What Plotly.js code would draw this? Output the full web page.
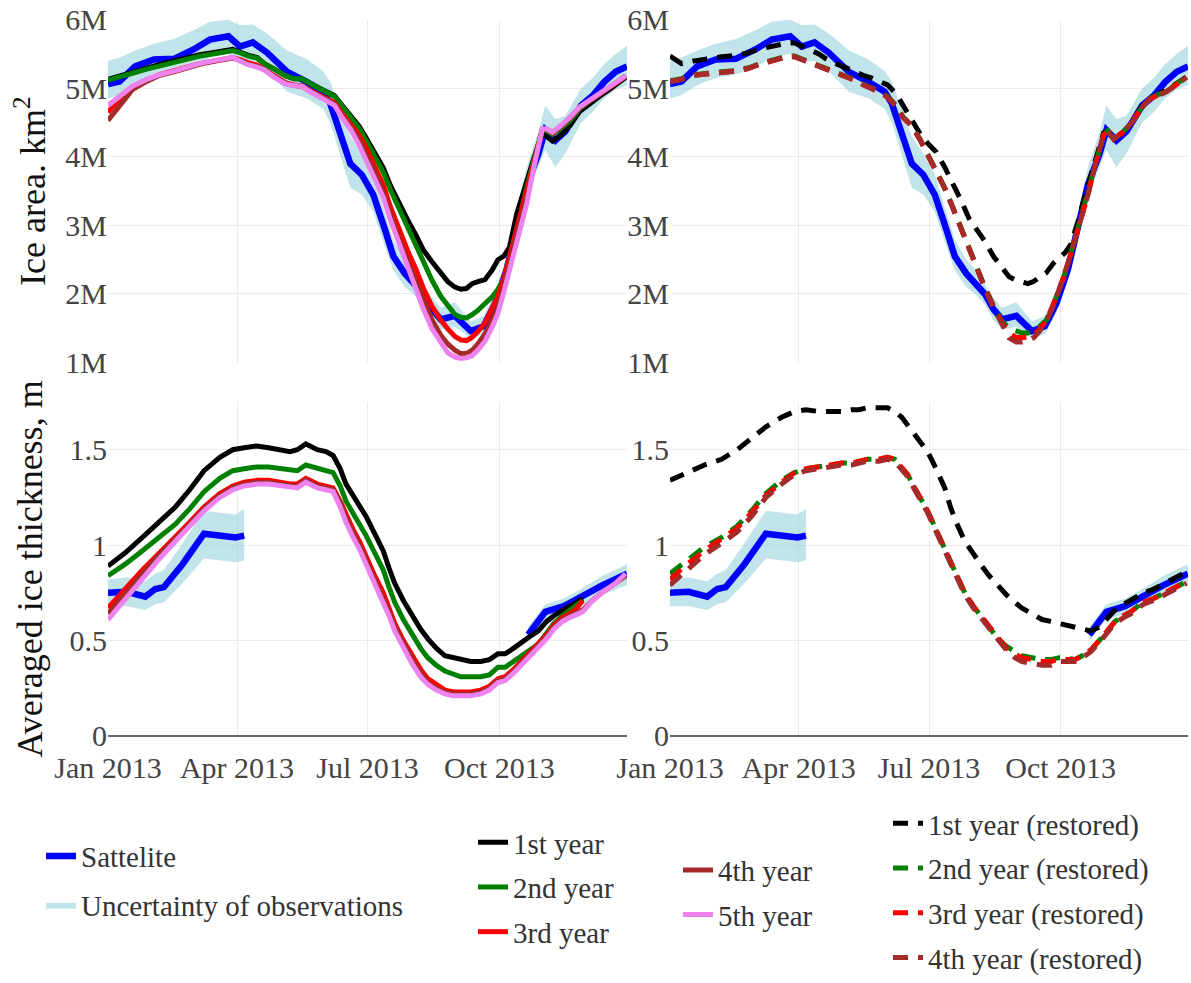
<!DOCTYPE html>
<html><head><meta charset="utf-8">
<script src="https://cdn.plot.ly/plotly-3.0.1.min.js"></script>
<style>html,body{margin:0;padding:0;background:#fff}#chart{width:1191px;height:983px}</style>
</head><body><div id="chart"></div>
<script>
// ---------- Ice area (millions of km^2) ----------
const areaDates = ['2013-01-01','2013-01-09','2013-01-18','2013-01-28','2013-02-06','2013-02-16','2013-02-25','2013-03-06','2013-03-15','2013-03-24',
 '2013-03-29','2013-04-03','2013-04-09','2013-04-15','2013-04-20','2013-04-27','2013-05-05','2013-05-11','2013-05-16','2013-05-22',
 '2013-05-27','2013-06-02','2013-06-08','2013-06-13','2013-06-19','2013-06-25','2013-06-30','2013-07-06','2013-07-12','2013-07-17',
 '2013-07-23','2013-07-29','2013-08-04','2013-08-09','2013-08-15','2013-08-21','2013-08-26','2013-08-31','2013-09-04','2013-09-08',
 '2013-09-12','2013-09-16','2013-09-21','2013-09-26','2013-09-30','2013-10-04','2013-10-08','2013-10-13','2013-10-20','2013-10-25',
 '2013-10-31','2013-11-03','2013-11-07','2013-11-13','2013-11-19','2013-11-26','2013-12-02','2013-12-07','2013-12-13','2013-12-18',
 '2013-12-23','2013-12-28'];
const area1 = [5.13,5.18,5.24,5.30,5.35,5.40,5.45,5.49,5.52,5.56, 5.57,5.53,5.48,5.45,5.36,5.28,5.18,5.14,5.14,5.07,
 5.02,4.96,4.89,4.76,4.60,4.45,4.28,4.07,3.84,3.58, 3.31,3.08,2.85,2.64,2.47,2.30,2.18,2.10,2.07,2.08,
 2.15,2.18,2.21,2.35,2.50,2.55,2.68,3.16,3.65,3.98, 4.35,4.30,4.23,4.32,4.45,4.66,4.76,4.85,4.93,5.00, 5.08,5.16];
const area2 = [5.12,5.16,5.22,5.28,5.33,5.38,5.43,5.47,5.50,5.54, 5.55,5.52,5.47,5.44,5.36,5.28,5.18,5.14,5.14,5.07,
 5.02,4.95,4.88,4.75,4.58,4.42,4.24,4.02,3.78,3.52, 3.24,2.98,2.72,2.46,2.20,1.97,1.82,1.70,1.66,1.65,
 1.70,1.76,1.86,1.96,2.07,2.22,2.45,2.93,3.55,3.95, 4.40,4.38,4.33,4.42,4.52,4.70,4.80,4.88,4.96,5.03, 5.10,5.18];
const area3 = [4.65,4.85,5.00,5.12,5.20,5.25,5.31,5.36,5.40,5.44, 5.45,5.42,5.37,5.34,5.28,5.18,5.08,5.05,5.04,4.97,
 4.92,4.86,4.79,4.64,4.48,4.32,4.13,3.88,3.59,3.27, 2.93,2.63,2.35,2.08,1.82,1.62,1.49,1.38,1.33,1.32,
 1.37,1.45,1.58,1.78,1.97,2.22,2.54,2.95,3.45,3.90, 4.40,4.40,4.35,4.45,4.56,4.72,4.80,4.88,4.96,5.03, 5.10,5.18];
const area4 = [4.53,4.75,4.98,5.10,5.19,5.24,5.30,5.35,5.39,5.43, 5.44,5.41,5.35,5.32,5.27,5.17,5.07,5.04,5.03,4.96,
 4.90,4.84,4.77,4.60,4.44,4.25,4.05,3.78,3.48,3.15, 2.80,2.48,2.18,1.90,1.62,1.40,1.27,1.18,1.13,1.13,
 1.18,1.27,1.42,1.62,1.82,2.10,2.45,2.88,3.40,3.88, 4.40,4.40,4.35,4.45,4.56,4.72,4.80,4.88,4.96,5.03, 5.10,5.18];
const area5 = [4.75,4.88,5.03,5.13,5.20,5.25,5.31,5.36,5.40,5.44, 5.45,5.40,5.34,5.31,5.27,5.16,5.06,5.04,5.03,4.95,
 4.89,4.82,4.75,4.58,4.41,4.18,3.95,3.68,3.41,3.08, 2.73,2.40,2.07,1.78,1.49,1.28,1.14,1.08,1.06,1.07,
 1.10,1.18,1.31,1.52,1.72,2.02,2.35,2.80,3.31,3.85, 4.41,4.41,4.36,4.46,4.57,4.73,4.81,4.89,4.97,5.04, 5.11,5.18];
const restArea1 = [5.47,5.36,5.40,5.44,5.46,5.48,5.52,5.58,5.62,5.66, 5.66,5.62,5.56,5.50,5.43,5.36,5.28,5.23,5.19,5.15,
 5.11,5.05,4.92,4.75,4.55,4.33,4.20,4.07,3.85,3.65, 3.38,3.10,2.92,2.77,2.55,2.38,2.25,2.20,2.17,2.15,
 2.18,2.24,2.31,2.45,2.52,2.60,2.72,3.05,3.58,3.92, 4.35,4.38,4.28,4.35,4.48,4.72,4.84,4.90,4.96,5.03, 5.10,5.17];
const restArea2 = [5.11,5.14,5.20,5.23,5.24,5.26,5.30,5.37,5.42,5.47, 5.47,5.43,5.38,5.33,5.28,5.24,5.17,5.12,5.06,5.01,
 4.96,4.88,4.75,4.58,4.46,4.25,4.05,3.80,3.55,3.30, 2.98,2.68,2.38,2.10,1.83,1.60,1.50,1.45,1.43,1.43,
 1.46,1.52,1.62,1.85,2.07,2.30,2.58,2.95,3.45,3.88, 4.32,4.38,4.26,4.35,4.48,4.70,4.85,4.90,4.95,5.02, 5.10,5.17];
const restArea3 = [5.10,5.13,5.19,5.22,5.23,5.25,5.29,5.36,5.41,5.46, 5.46,5.42,5.37,5.32,5.27,5.23,5.16,5.11,5.05,5.00,
 4.95,4.87,4.74,4.57,4.45,4.24,4.04,3.79,3.54,3.29, 2.97,2.67,2.37,2.09,1.82,1.58,1.42,1.37,1.36,1.37,
 1.40,1.48,1.61,1.84,2.06,2.29,2.57,2.94,3.44,3.87, 4.32,4.38,4.26,4.35,4.48,4.70,4.84,4.89,4.94,5.01, 5.09,5.16];
const restArea4 = [5.10,5.13,5.19,5.22,5.23,5.25,5.29,5.36,5.41,5.46, 5.46,5.42,5.37,5.32,5.27,5.23,5.16,5.11,5.05,5.00,
 4.95,4.87,4.74,4.57,4.45,4.24,4.04,3.79,3.54,3.29, 2.97,2.67,2.37,2.09,1.80,1.55,1.36,1.30,1.30,1.32,
 1.36,1.45,1.60,1.83,2.06,2.29,2.57,2.94,3.44,3.87, 4.32,4.38,4.26,4.35,4.48,4.70,4.84,4.89,4.94,5.01, 5.09,5.16];

const satAreaDates = ['2013-01-01','2013-01-09','2013-01-20','2013-02-02','2013-02-16','2013-03-02','2013-03-13','2013-03-26','2013-04-03','2013-04-12',
 '2013-04-22','2013-05-06','2013-05-20','2013-05-31','2013-06-05','2013-06-13','2013-06-19','2013-06-27','2013-07-05','2013-07-13',
 '2013-07-19','2013-07-27','2013-08-03','2013-08-09','2013-08-15','2013-08-21','2013-08-31','2013-09-11','2013-09-20','2013-09-28',
 '2013-10-06','2013-10-14','2013-10-20','2013-10-28','2013-11-02','2013-11-09','2013-11-16','2013-11-27','2013-12-05','2013-12-13',
 '2013-12-21','2013-12-29'];
const satArea = [5.06,5.10,5.32,5.42,5.43,5.57,5.71,5.76,5.61,5.67, 5.52,5.24,5.09,4.95,4.78,4.30,3.90,3.74,3.45,2.95,
 2.55,2.30,2.15,2.00,1.78,1.63,1.68,1.46,1.53,1.86, 2.35,3.02,3.59,4.03,4.39,4.24,4.37,4.75,4.89,5.09, 5.24,5.32];
const satAreaLo = [4.85,4.90,5.05,5.15,5.20,5.30,5.45,5.50,5.38,5.40, 5.25,4.95,4.85,4.70,4.50,3.95,3.55,3.45,3.20,2.70,
 2.35,2.10,1.98,1.85,1.62,1.48,1.52,1.35,1.42,1.72, 2.20,2.85,3.40,3.85,4.10,3.85,4.05,4.50,4.65,4.85, 4.98,5.05];
const satAreaHi = [5.40,5.45,5.55,5.65,5.72,5.85,5.97,6.00,5.92,5.93, 5.80,5.55,5.42,5.25,5.10,4.65,4.30,4.05,3.75,3.20,
 2.80,2.50,2.35,2.15,1.95,1.80,1.88,1.60,1.68,2.02, 2.55,3.25,3.85,4.35,4.75,4.55,4.60,5.00,5.15,5.35, 5.50,5.62];

// ---------- Averaged ice thickness (m) ----------
const thickDates = ['2013-01-01','2013-01-13','2013-01-25','2013-02-06','2013-02-17','2013-02-27','2013-03-09','2013-03-20','2013-03-29','2013-04-06',
 '2013-04-15','2013-04-23','2013-05-01','2013-05-08','2013-05-13','2013-05-19','2013-05-27','2013-06-02','2013-06-07','2013-06-12',
 '2013-06-16','2013-06-21','2013-06-26','2013-06-30','2013-07-06','2013-07-12','2013-07-16','2013-07-20','2013-07-26','2013-08-01',
 '2013-08-07','2013-08-12','2013-08-18','2013-08-24','2013-08-30','2013-09-04','2013-09-11','2013-09-18','2013-09-24','2013-09-30',
 '2013-10-05','2013-10-11','2013-10-16','2013-10-22','2013-10-28','2013-11-03','2013-11-08','2013-11-14','2013-11-19','2013-11-24',
 '2013-11-28','2013-12-05','2013-12-13','2013-12-21','2013-12-28'];
const thick1 = [0.89,0.96,1.04,1.12,1.20,1.29,1.39,1.46,1.50,1.51, 1.52,1.51,1.50,1.49,1.50,1.53,1.50,1.49,1.47,1.40,
 1.32,1.26,1.20,1.15,1.06,0.97,0.88,0.80,0.71,0.63, 0.56,0.51,0.46,0.42,0.41,0.40,0.39,0.39,0.40,0.43,
 0.43,0.46,0.49,0.52,0.55,0.60,0.63,0.66,0.68,0.70, 0.72,null,null,null,null];
const thick2 = [0.84,0.90,0.97,1.04,1.11,1.19,1.28,1.35,1.39,1.40, 1.41,1.41,1.40,1.39,1.39,1.42,1.40,1.39,1.38,1.31,
 1.23,1.17,1.10,1.05,0.96,0.87,0.78,0.70,0.61,0.53, 0.46,0.41,0.37,0.34,0.32,0.31,0.31,0.31,0.32,0.36,
 0.36,0.39,0.42,0.45,0.48,0.54,0.59,0.63,0.66,0.69, 0.71,null,null,null,null];
const thick3 = [0.67,0.77,0.87,0.96,1.04,1.12,1.20,1.27,1.31,1.33, 1.34,1.34,1.33,1.32,1.32,1.35,1.32,1.31,1.30,1.23,
 1.16,1.08,1.01,0.94,0.84,0.75,0.67,0.59,0.50,0.42, 0.35,0.30,0.27,0.24,0.23,0.23,0.23,0.24,0.26,0.30,
 0.31,0.35,0.39,0.43,0.48,0.53,0.58,0.62,0.64,0.67, 0.71,null,null,null,null];
const thick4 = [0.64,0.75,0.85,0.95,1.03,1.11,1.19,1.26,1.30,1.32, 1.33,1.33,1.32,1.31,1.31,1.34,1.31,1.30,1.29,1.22,
 1.14,1.06,0.99,0.92,0.82,0.73,0.65,0.57,0.48,0.40, 0.33,0.28,0.25,0.23,0.22,0.22,0.22,0.23,0.25,0.29,
 0.30,0.34,0.38,0.42,0.47,0.52,0.57,0.61,0.63,0.65, 0.66,0.71,0.76,0.80,0.84];
const thick5 = [0.61,0.72,0.82,0.93,1.02,1.10,1.18,1.25,1.29,1.31, 1.32,1.32,1.31,1.30,1.30,1.33,1.30,1.29,1.28,1.20,
 1.12,1.04,0.97,0.90,0.80,0.71,0.63,0.55,0.46,0.38, 0.31,0.27,0.24,0.22,0.21,0.21,0.21,0.22,0.24,0.28,
 0.29,0.33,0.37,0.41,0.46,0.51,0.56,0.60,0.62,0.64, 0.65,0.71,0.76,0.80,0.85];
const restThick1 = [1.34,1.38,1.42,1.45,1.50,1.56,1.62,1.67,1.70,1.71, 1.70,1.70,1.70,1.71,1.71,1.72,1.72,1.72,1.70,1.67,
 1.63,1.58,1.53,1.49,1.40,1.30,1.20,1.12,1.02,0.95, 0.89,0.84,0.79,0.74,0.70,0.67,0.64,0.61,0.60,0.59,
 0.58,0.57,0.56,0.55,0.57,0.62,0.66,0.69,0.71,0.73, 0.75,0.77,0.80,0.83,0.86];
const restThick2 = [0.85,0.92,0.99,1.04,1.10,1.18,1.27,1.34,1.38,1.40, 1.41,1.42,1.43,1.43,1.44,1.45,1.45,1.46,1.45,1.41,
 1.37,1.30,1.24,1.18,1.08,0.98,0.91,0.84,0.75,0.68, 0.62,0.57,0.51,0.47,0.44,0.42,0.41,0.40,0.40,0.41,
 0.41,0.40,0.42,0.45,0.50,0.56,0.60,0.63,0.65,0.68, 0.70,0.72,0.75,0.78,0.81];
const restThick3 = [0.82,0.90,0.97,1.03,1.09,1.17,1.26,1.33,1.38,1.40, 1.41,1.42,1.43,1.43,1.44,1.45,1.45,1.46,1.45,1.41,
 1.37,1.30,1.24,1.18,1.08,0.98,0.91,0.84,0.75,0.68, 0.62,0.57,0.51,0.46,0.43,0.41,0.40,0.39,0.39,0.40,
 0.40,0.40,0.42,0.45,0.50,0.56,0.60,0.63,0.65,0.68, 0.70,0.72,0.75,0.78,0.81];
const restThick4 = [0.79,0.87,0.95,1.01,1.07,1.15,1.25,1.32,1.37,1.39, 1.40,1.41,1.42,1.42,1.43,1.44,1.44,1.45,1.44,1.40,
 1.36,1.29,1.23,1.17,1.07,0.97,0.90,0.83,0.74,0.67, 0.61,0.56,0.50,0.45,0.41,0.39,0.38,0.37,0.37,0.39,
 0.39,0.39,0.41,0.44,0.49,0.55,0.59,0.62,0.64,0.67, 0.69,0.71,0.74,0.77,0.80];

const satThickDatesA = ['2013-01-01','2013-01-14','2013-01-27','2013-02-03','2013-02-09','2013-02-22','2013-03-09','2013-03-20','2013-03-31','2013-04-06'];
const satThickA   = [0.75,0.755,0.73,0.77,0.78,0.90,1.06,1.05,1.04,1.05];
const satThickALo = [0.68,0.68,0.66,0.69,0.70,0.80,0.93,0.92,0.91,0.92];
const satThickAHi = [0.82,0.83,0.81,0.85,0.87,1.01,1.18,1.17,1.16,1.19];
const satThickDatesB = ['2013-10-21','2013-11-02','2013-11-15','2013-11-27','2013-12-12','2013-12-29'];
const satThickB   = [0.53,0.65,0.68,0.73,0.79,0.85];
const satThickBLo = [0.50,0.61,0.64,0.68,0.74,0.79];
const satThickBHi = [0.57,0.69,0.72,0.77,0.84,0.90];

const modelNames = ['1st year','2nd year','3rd year','4th year','5th year'];
const restNames = ['1st year (restored)','2nd year (restored)','3rd year (restored)','4th year (restored)'];
const colors = ['#000000','#008000','#ff0000','#a52a2a','#ee82ee'];

// ---------- build traces ----------
const FONT = '"Liberation Serif", "Times New Roman", Times, serif';
const BAND = 'rgba(150,210,220,0.6)';
const traces = [];
function band(xa, ya, x, lo, hi, show) {
  traces.push({type:'scatter', mode:'lines', xaxis:xa, yaxis:ya,
    x: x.concat(x.slice().reverse()), y: hi.concat(lo.slice().reverse()),
    fill:'toself', fillcolor:BAND, line:{width:0, color:BAND},
    name:'Uncertainty of observations', legendgroup:'unc', legendrank:2, showlegend:show, legend:'legend', hoverinfo:'skip'});
}
function sat(xa, ya, x, y, show) {
  traces.push({type:'scatter', mode:'lines', xaxis:xa, yaxis:ya, x:x, y:y,
    line:{color:'#0000ff', width:6.5}, name:'Sattelite', legendgroup:'sat', legendrank:1, showlegend:show, legend:'legend'});
}
function model(xa, ya, x, y, i, show) {
  traces.push({type:'scatter', mode:'lines', xaxis:xa, yaxis:ya, x:x, y:y, connectgaps:false,
    line:{color:colors[i], width:5}, name:modelNames[i], legendgroup:'m'+i, legendrank:10+i, showlegend:show,
    legend: i < 3 ? 'legend2' : 'legend3'});
}
function rest(xa, ya, x, y, i, show) {
  traces.push({type:'scatter', mode:'lines', xaxis:xa, yaxis:ya, x:x, y:y,
    line:{color:colors[i], width:5, dash:'15px,10px'}, name:restNames[i], legendgroup:'r'+i, legendrank:20+i, showlegend:show,
    legend:'legend4'});
}
const areaModels = [area1, area2, area3, area4, area5];
const areaRest = [restArea1, restArea2, restArea3, restArea4];
const thickModels = [thick1, thick2, thick3, thick4, thick5];
const thickRest = [restThick1, restThick2, restThick3, restThick4];

// top-left
band('x','y', satAreaDates, satAreaLo, satAreaHi, true);
sat('x','y', satAreaDates, satArea, true);
areaModels.forEach((a,i)=>model('x','y', areaDates, a, i, true));
// top-right
band('x2','y2', satAreaDates, satAreaLo, satAreaHi, false);
sat('x2','y2', satAreaDates, satArea, false);
areaRest.forEach((a,i)=>rest('x2','y2', areaDates, a, i, true));
// bottom-left
band('x3','y3', satThickDatesA, satThickALo, satThickAHi, false);
band('x3','y3', satThickDatesB, satThickBLo, satThickBHi, false);
sat('x3','y3', satThickDatesA, satThickA, false);
sat('x3','y3', satThickDatesB, satThickB, false);
thickModels.forEach((a,i)=>model('x3','y3', thickDates, a, i, false));
// bottom-right
band('x4','y4', satThickDatesA, satThickALo, satThickAHi, false);
band('x4','y4', satThickDatesB, satThickBLo, satThickBHi, false);
sat('x4','y4', satThickDatesA, satThickA, false);
sat('x4','y4', satThickDatesB, satThickB, false);
thickRest.forEach((a,i)=>rest('x4','y4', thickDates, a, i, false));

// ---------- layout ----------
const W = 1191, H = 983;
const tickFont = {family:FONT, size:30, color:'#444'};
const titleFont = {family:FONT, size:36, color:'#111'};
const xRange = ['2013-01-01','2013-12-29'];
const xLeft = [108/W, 627/W], xRight = [670/W, 1188/W];
const yTop = [(H-367)/H, (H-20)/H], yBot = [(H-745)/H, (H-407)/H];
function xax(domain, anchor, labels) {
  return {domain, anchor, type:'date', range:xRange, dtick:'M3', tick0:'2013-01-01', tickformat:'%b %Y',
    showticklabels:labels, tickfont:tickFont, ticklabelstandoff:11, gridcolor:'#ebebeb', zeroline:false, showline:false, ticks:''};
}
function yArea(domain, anchor, title) {
  const a = {domain, anchor, range:[1,6], dtick:1, ticksuffix:'M', tickfont:tickFont, gridcolor:'#ebebeb',
    zeroline:false, showline:false, ticks:''};
  if (title) a.title = {text:'Ice area. km<sup>2</sup>', font:titleFont, standoff:8};
  return a;
}
function yThick(domain, anchor, title) {
  const a = {domain, anchor, range:[0,1.75], tickvals:[0,0.5,1,1.5], tickfont:tickFont, gridcolor:'#ebebeb',
    zeroline:true, zerolinecolor:'#666', zerolinewidth:2, showline:false, ticks:''};
  if (title) a.title = {text:'Averaged ice thickness, m', font:titleFont, standoff:15};
  return a;
}
const legBase = {font:{family:FONT, size:29, color:'#333'}, bgcolor:'rgba(0,0,0,0)', borderwidth:0,
  xanchor:'left', yanchor:'top', tracegroupgap:4, orientation:'v'};
const layout = {
  width:W, height:H, margin:{l:0, r:0, t:0, b:0}, paper_bgcolor:'#fff', plot_bgcolor:'#fff',
  font:{family:FONT}, hovermode:false,
  xaxis: xax(xLeft, 'y', false), yaxis: yArea(yTop, 'x', true),
  xaxis2: xax(xRight, 'y2', false), yaxis2: yArea(yTop, 'x2', false),
  xaxis3: xax(xLeft, 'y3', true), yaxis3: yThick(yBot, 'x3', true),
  xaxis4: xax(xRight, 'y4', true), yaxis4: yThick(yBot, 'x4', false),
  legend:  Object.assign({}, legBase, {x:41/W,  y:(H-841)/H, tracegroupgap:8}),
  legend2: Object.assign({}, legBase, {x:473/W, y:(H-827)/H}),
  legend3: Object.assign({}, legBase, {x:678/W, y:(H-855)/H}),
  legend4: Object.assign({}, legBase, {x:888/W, y:(H-808)/H}),
  showlegend:true
};
Plotly.newPlot('chart', traces, layout, {displayModeBar:false, staticPlot:true});
</script>
</body></html>
